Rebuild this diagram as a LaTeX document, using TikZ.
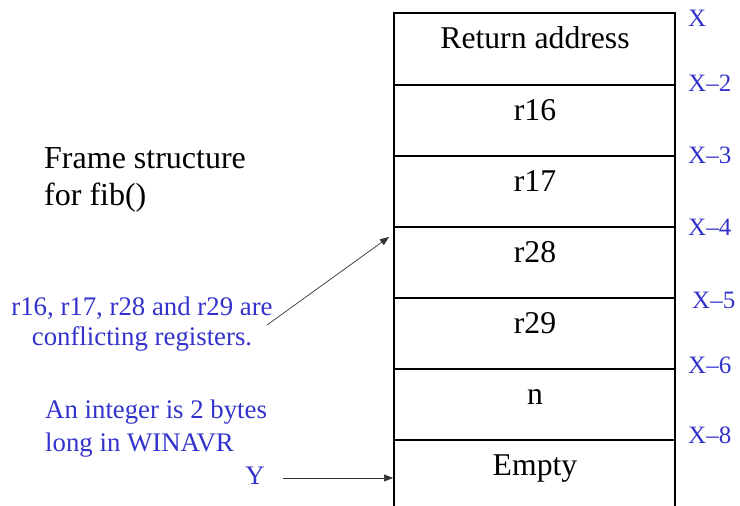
\documentclass[tikz,border=0pt]{standalone}
\usepackage{fontspec}
\setmainfont{Liberation Serif}
\usetikzlibrary{arrows.meta}
\definecolor{noteblue}{RGB}{51,51,204}
\tikzset{
  cellText/.style={anchor=base, font=\fontsize{31.7}{38}\selectfont, inner sep=0pt},
  addrText/.style={anchor=base west, text=noteblue, font=\fontsize{25}{30}\selectfont, inner sep=0pt},
  noteText/.style={text=noteblue, font=\fontsize{26.8}{33}\selectfont, inner sep=0pt},
  divider/.style={line width=1.1pt},
  frameBorder/.style={line width=2.6pt},
  pointer/.style={line width=0.7pt, draw=black!80, -{Triangle[length=9pt,width=7pt]}}
}
\begin{document}
\begin{tikzpicture}[x=1pt,y=-1pt]
  \useasboundingbox (0,0) rectangle (740,506);

  % stack frame cells
  \foreach \yy in {85,156,227,298,369,440} \draw[divider] (394,\yy) -- (675,\yy);
  \draw[frameBorder] (394,512) -- (394,13) -- (675,13) -- (675,512);

  \node[cellText] (ret) at (535,48)  {Return address};
  \node[cellText] (c16) at (535,120) {r16};
  \node[cellText] (c17) at (535,191) {r17};
  \node[cellText] (c28) at (535,262) {r28};
  \node[cellText] (c29) at (535,333) {r29};
  \node[cellText] (cn)  at (535,404) {n};
  \node[cellText] (ce)  at (535,475) {Empty};

  % addresses
  \node[addrText] (a0) at (688,27)  {X};
  \node[addrText] (a2) at (688,91)  {X–2};
  \node[addrText] (a3) at (688,163) {X–3};
  \node[addrText] (a4) at (688,235) {X–4};
  \node[addrText] (a5) at (692,308) {X–5};
  \node[addrText] (a6) at (688,373) {X–6};
  \node[addrText] (a8) at (688,443) {X–8};

  % captions
  \node[anchor=base west, inner sep=0pt, font=\fontsize{32}{38}\selectfont] (title) at (44,168) {Frame structure};
  \node[anchor=base west, inner sep=0pt, font=\fontsize{32}{38}\selectfont] (title2) at (44,205) {for fib()};

  \node[noteText, anchor=base] (conf1) at (142,315) {r16, r17, r28 and r29 are};
  \node[noteText, anchor=base] (conf2) at (142,345) {conflicting registers.};
  \node[noteText, anchor=base west] (int1) at (45,418) {An integer is 2 bytes};
  \node[noteText, anchor=base west] (int2) at (45,451) {long in WINAVR};
  \node[noteText, anchor=base] (ylab) at (255,484) {Y};

  % pointers
  \coordinate (confEnd) at (267,325);
  \coordinate (frameTop) at (389,237);
  \coordinate (yStart) at (283,478);
  \coordinate (yEnd) at (393,478);
  \draw[pointer] (confEnd) -- (frameTop);
  \draw[pointer] (yStart) -- (yEnd);
\end{tikzpicture}
\end{document}
